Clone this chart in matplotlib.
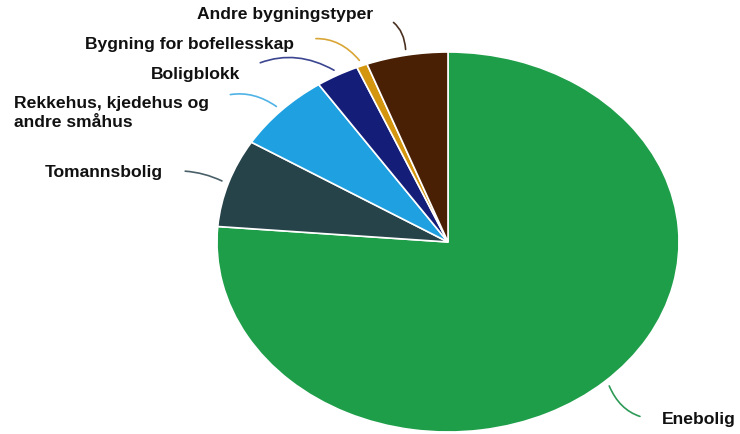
import numpy as np
import matplotlib
matplotlib.use('Agg')
from matplotlib import pyplot as plt

# building types, share of dwellings (percent)
labels = ['Enebolig', 'Tomannsbolig', 'Rekkehus, kjedehus og\nandre småhus',
          'Boligblokk', 'Bygning for bofellesskap', 'Andre bygningstyper']
shares = [76.3, 7.5, 6.75, 3.0, 0.75, 5.7]
colors = ['#1f9e4a', '#26434a', '#1fa0e0', '#141e78', '#d4960f', '#4a2005']
line_colors = ['#2e9a57', '#4a6068', '#4fb3e6', '#3b4590', '#d9a635', '#4a3020']

W, H = 740, 435
plt.rcParams['font.family'] = ['Liberation Sans', 'DejaVu Sans']

fig = plt.figure(figsize=(W / 100, H / 100), dpi=100)
ax = fig.add_axes([0, 0, 1, 1])

wedges, _ = ax.pie(shares, colors=colors, startangle=90, counterclock=False,
                   wedgeprops=dict(edgecolor='white', linewidth=1.2))

# stretch pie into the ellipse seen in the reference
cx, cy = 448, 243          # centre, pixels from top-left
rx, ry = 231, 190          # radii in pixels
ax.set_aspect('auto')
ax.set_xlim(-cx / rx, (W - cx) / rx)
ax.set_ylim(-(H - cy) / ry, cy / ry)
ax.axis('off')


def px(x, y):
    # top-left pixel -> data coords
    return ((x - cx) / rx, (cy - y) / ry)


# text anchor (pixels), horizontal align, curvature
label_pos = [(662, 420, 'left', -0.35),
             (163, 173, 'right', -0.15),
             (209, 103, 'right', -0.3),
             (240, 74, 'right', -0.3),
             (294, 44, 'right', -0.35),
             (373, 15, 'right', -0.4)]

for w, lab, lc, (tx, ty, ha, rad) in zip(wedges, labels, line_colors, label_pos):
    ang = np.deg2rad((w.theta1 + w.theta2) / 2)
    xy = (1.03 * np.cos(ang), 1.03 * np.sin(ang))
    ty_c = ty + 10 if '\n' in lab else ty
    ax.annotate(lab, xy=xy, xytext=px(tx, ty_c), ha=ha, va='center',
                multialignment='left', fontsize=12.6, fontweight='bold',
                color='#111111', linespacing=1.35,
                arrowprops=dict(arrowstyle='-', color=lc, lw=1.2,
                                shrinkA=14, shrinkB=0,
                                relpos=(0 if ha == 'left' else 1,
                                        0.8 if '\n' in lab else 0.5),
                                connectionstyle='arc3,rad=%s' % rad))

fig.savefig('out.png', dpi=100)
